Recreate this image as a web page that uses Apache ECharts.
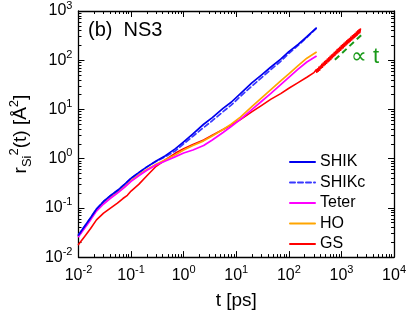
<!DOCTYPE html>
<html><head><meta charset="utf-8">
<script src="https://cdn.jsdelivr.net/npm/echarts@6/dist/echarts.min.js"></script>
<style>html,body{margin:0;padding:0;background:#fff}#c{width:409px;height:315px}</style>
</head><body><div id="c"></div>
<script>
const FONT = 'Liberation Sans, Arial, Helvetica, sans-serif';

const tSHIK = [0.01,0.013,0.017,0.022,0.03,0.04,0.055,0.075,0.1,0.14,0.2,0.3,0.45,0.7,1,1.5,2.4,3.5,5.6,8,12,20,30,45,70,100,150,220,330];
const rSHIK = [0.028,0.042,0.063,0.095,0.135,0.175,0.225,0.3,0.4,0.52,0.68,0.9,1.15,1.6,2.2,3.2,5.0,6.8,10.5,14,21,35,50,72,105,150,210,300,450];

const tSHIKc = [0.01,0.013,0.017,0.022,0.03,0.04,0.055,0.075,0.1,0.14,0.2,0.3,0.45,0.7,1,1.5,2.4,3.5,5.6,8,12,20,30,45,70,100,150,220,330];
const rSHIKc = [0.028,0.042,0.063,0.095,0.135,0.175,0.225,0.3,0.4,0.52,0.68,0.88,1.1,1.45,2.0,2.85,4.3,5.9,9.0,12.2,18.5,30,44,64,95,138,200,290,440];

const tTeter = [0.01,0.013,0.017,0.022,0.03,0.04,0.055,0.075,0.1,0.14,0.2,0.3,0.45,0.7,1,1.5,2.4,3.5,5.6,8,12,20,30,45,70,100,150,220,330];
const rTeter = [0.026,0.038,0.057,0.086,0.12,0.155,0.2,0.26,0.345,0.45,0.58,0.74,0.9,1.1,1.3,1.5,1.85,2.4,3.4,4.5,6.3,10,14.5,21,32,45,66,92,120];

const tHO = [0.01,0.013,0.017,0.022,0.03,0.04,0.055,0.075,0.1,0.14,0.2,0.3,0.45,0.7,1,1.5,2.4,3.5,5.6,8,12,20,30,45,70,100,150,220,330];
const rHO = [0.027,0.04,0.06,0.09,0.125,0.16,0.205,0.27,0.36,0.47,0.6,0.77,0.95,1.2,1.5,1.85,2.3,2.9,3.9,5.0,7.0,11.5,17,25,38,53,78,110,145];

const tGS = [0.01,0.013,0.017,0.022,0.03,0.04,0.055,0.07,0.085,0.1,0.14,0.2,0.3,0.45,0.7,1,1.5,2.4,3.5,5.6,8,12,20,30,45,70,100,150,220,
  300,310,320,330,340,350,362,374,386,398,410,423,436,450,464,478,493,508,524,540,557,574,592,610,629,648,668,689,710,732,755,778,802,827,852,878,905,933,962,992,
  1020,1050,1085,1118,1152,1188,1224,1262,1300,1340,1382,1424,1468,1513,1560,1608,1657,1708,1760,1814,1870,1928,1987,2048,2110,2175,2240,2300];
const rGS = [0.018,0.026,0.038,0.057,0.078,0.098,0.125,0.155,0.18,0.22,0.3,0.45,0.7,0.95,1.3,1.6,1.95,2.4,3.0,3.9,4.8,6.2,9.0,12,16,21,27,35,45,
  56,61,54,64,57,67,60,73,63,76,69,83,72,88,78,94,82,99,87,106,93,112,98,120,104,127,112,134,119,144,127,152,135,164,142,172,151,184,159,197,
  171,207,179,220,193,234,204,247,217,264,229,277,244,294,257,312,274,330,289,350,304,372,324,394,344,422,364,432];

const tFit = [750, 2700];
const rFit = [102, 367];

const xMajorExp = [-2,-1,0,1,2,3,4];
const yMajorExp = [-2,-1,0,1,2,3];
const legendNames = ['SHIK','SHIKc','Teter','HO','GS'];

function minorVals(exps) {
  const out = [];
  for (let i = 0; i < exps.length - 1; i++) {
    for (let k = 2; k <= 9; k++) out.push(k * Math.pow(10, exps[i]));
  }
  return out;
}
const pairs = (t, r) => t.map((x, i) => [x, r[i]]);
const fmt = v => { const e = Math.round(Math.log10(v)); return '10{s|' + e + '}'; };
const labelRich = { s: { fontSize: 11, lineHeight: 11, verticalAlign: 'top', fontFamily: FONT, color: '#000' } };

const axLine = { show: true, onZero: false, lineStyle: { color: '#000', width: 1.3 } };

function xAxes(pos) {
  const main = pos === 'bottom';
  return [
    { type: 'log', logBase: 10, min: 0.01, max: 10000, position: pos, gridIndex: 0,
      axisLine: axLine,
      axisTick: { show: true, inside: true, length: 6, lineStyle: { color: '#000', width: 1 } },
      axisLabel: { show: main, formatter: fmt, rich: labelRich, margin: 7, color: '#000', fontSize: 16, lineHeight: 22, fontFamily: FONT },
      splitLine: { show: false }, minorTick: { show: false },
      name: main ? 't [ps]' : '', nameLocation: 'middle', nameGap: 27,
      nameTextStyle: { fontSize: 19, color: '#000', fontFamily: FONT } },
    { type: 'log', logBase: 10, min: 0.01, max: 10000, position: pos, gridIndex: 0,
      axisLine: { show: false },
      axisTick: { show: true, inside: true, length: 3, customValues: minorVals(xMajorExp), lineStyle: { color: '#000', width: 1 } },
      axisLabel: { show: false }, splitLine: { show: false } }
  ];
}
function yAxes(pos) {
  const main = pos === 'left';
  return [
    { type: 'log', logBase: 10, min: 0.01, max: 1000, position: pos, gridIndex: 0,
      axisLine: axLine,
      axisTick: { show: true, inside: true, length: 6, lineStyle: { color: '#000', width: 1 } },
      axisLabel: { show: main, formatter: fmt, rich: labelRich, margin: 6, color: '#000', fontSize: 16, lineHeight: 22, fontFamily: FONT },
      splitLine: { show: false },
      name: main ? 'r{sub|Si}{sup|2}(t) [Å{sup|2}]' : '', nameLocation: 'middle', nameGap: 33, nameRotate: 90,
      nameTextStyle: { fontSize: 19, color: '#000', fontFamily: FONT, lineHeight: 26,
        rich: { sub: { fontSize: 13, lineHeight: 13, verticalAlign: 'bottom', fontFamily: FONT, color: '#000' },
                sup: { fontSize: 13, lineHeight: 13, verticalAlign: 'top', fontFamily: FONT, color: '#000' } } } },
    { type: 'log', logBase: 10, min: 0.01, max: 1000, position: pos, gridIndex: 0,
      axisLine: { show: false },
      axisTick: { show: true, inside: true, length: 3, customValues: minorVals(yMajorExp), lineStyle: { color: '#000', width: 1 } },
      axisLabel: { show: false }, splitLine: { show: false } }
  ];
}

const lw = 1.7;
function line(name, t, r, color, type, width) {
  return { name, type: 'line', xAxisIndex: 0, yAxisIndex: 0, data: pairs(t, r), symbol: 'none', showSymbol: false,
    lineStyle: { color, width: width || lw, type: type || 'solid', join: 'round', cap: 'round' }, itemStyle: { color }, z: 3 };
}

const chart = echarts.init(document.getElementById('c'), null, { renderer: 'canvas' });
chart.setOption({
  animation: false,
  backgroundColor: '#fff',
  grid: { left: 71, right: 13, top: 10, bottom: 51, containLabel: false },
  xAxis: [...xAxes('bottom'), ...xAxes('top')],
  yAxis: [...yAxes('left'), ...yAxes('right')],
  legend: { data: legendNames, orient: 'vertical', left: 289, top: 154, itemWidth: 25, itemHeight: 14, itemGap: 4.5,
    padding: 0, itemStyle: { opacity: 0 }, textStyle: { fontSize: 16, color: '#000', fontFamily: FONT } },
  series: [
    line('GS', tGS, rGS, '#ff0000', 'solid', 1.6),
    line('HO', tHO, rHO, '#ffa500'),
    line('Teter', tTeter, rTeter, '#ff00ff'),
    line('SHIKc', tSHIKc, rSHIKc, '#3838ff', [5, 3]),
    line('SHIK', tSHIK, rSHIK, '#0000ee'),
    { name: 'fit', type: 'line', data: pairs(tFit, rFit), symbol: 'none', lineStyle: { color: '#1a9a1a', width: 2, type: [6, 4] }, z: 4 }
  ],
  graphic: [
    { type: 'text', left: 88, top: 20, style: { text: '(b)  NS3', fontSize: 20, fill: '#000', fontFamily: FONT } },
    { type: 'text', left: 351, top: 46, style: { text: '∝ t', fontSize: 22, fill: '#1a9a1a', fontFamily: FONT } }
  ]
});
</script></body></html>
